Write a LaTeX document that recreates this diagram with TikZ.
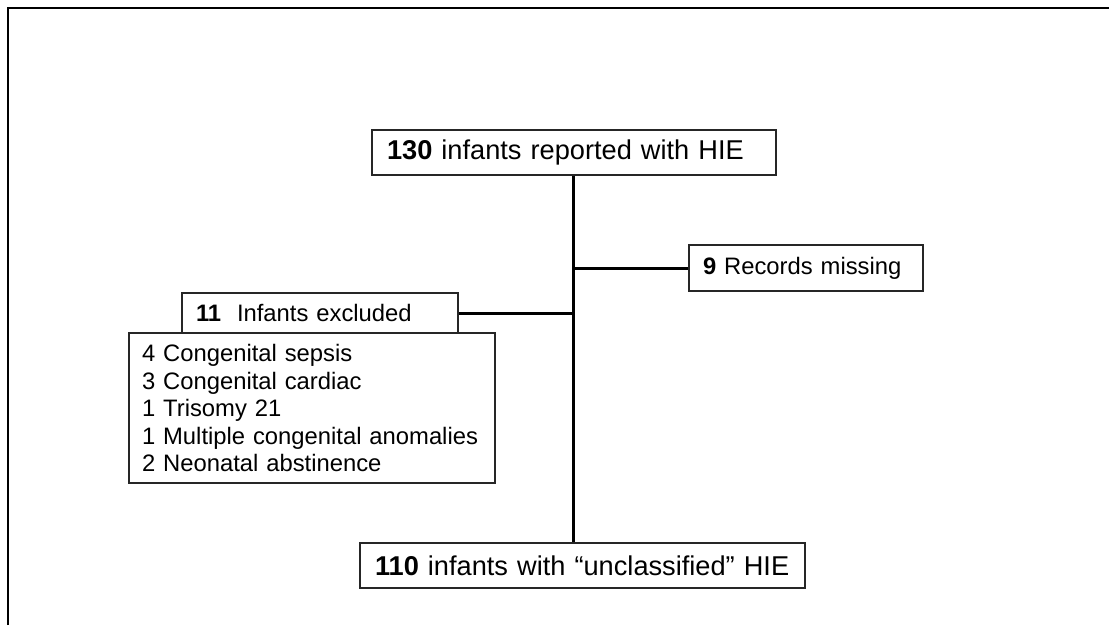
\documentclass[tikz,border=0pt]{standalone}
\usepackage{fontspec}
\setmainfont{Liberation Sans}
\begin{document}
\begin{tikzpicture}[x=1pt,y=-1pt,
  box/.style={draw=black!85,line width=1.5pt,fill=white,inner xsep=14pt,inner ysep=0pt,align=left,anchor=center},
  big/.style={font=\fontsize{27.2}{30}\selectfont},
  small/.style={font=\fontsize{23.8}{27.5}\selectfont},
  conn/.style={draw=black,line width=3pt}]
\useasboundingbox (0,0) rectangle (1109,625);
\draw[line width=2pt] (8,625) -- (8,8) -- (1109,8);

\node[box,big,minimum width=404pt,minimum height=45pt,text width=374pt] (top) at (574,152.5) {\textbf{130} infants reported with HIE};
\node[box,small,minimum width=234pt,minimum height=46pt,text width=206pt] (rec) at (806,268) {\textbf{9} Records missing};
\node[box,small,minimum width=276pt,minimum height=40pt,text width=248pt] (excl) at (320,313) {\textbf{11}\ \ Infants excluded};
\node[box,small,minimum width=366pt,minimum height=150pt,text width=340pt,inner xsep=13pt] (list) at (312,408) {4 Congenital sepsis\\3 Congenital cardiac\\1 Trisomy 21\\1 Multiple congenital anomalies\\2 Neonatal abstinence};
\node[box,big,minimum width=445pt,minimum height=45pt,text width=415pt] (bot) at (582.5,565.5) {\textbf{110} infants with “unclassified” HIE};

\coordinate (spine) at (573.5,300);
\draw[conn] (top.south -| spine) -- (bot.north -| spine);
\draw[conn] (spine |- rec.west) -- (rec.west);
\draw[conn] (excl.east) -- (spine |- excl.east);
\end{tikzpicture}
\end{document}
